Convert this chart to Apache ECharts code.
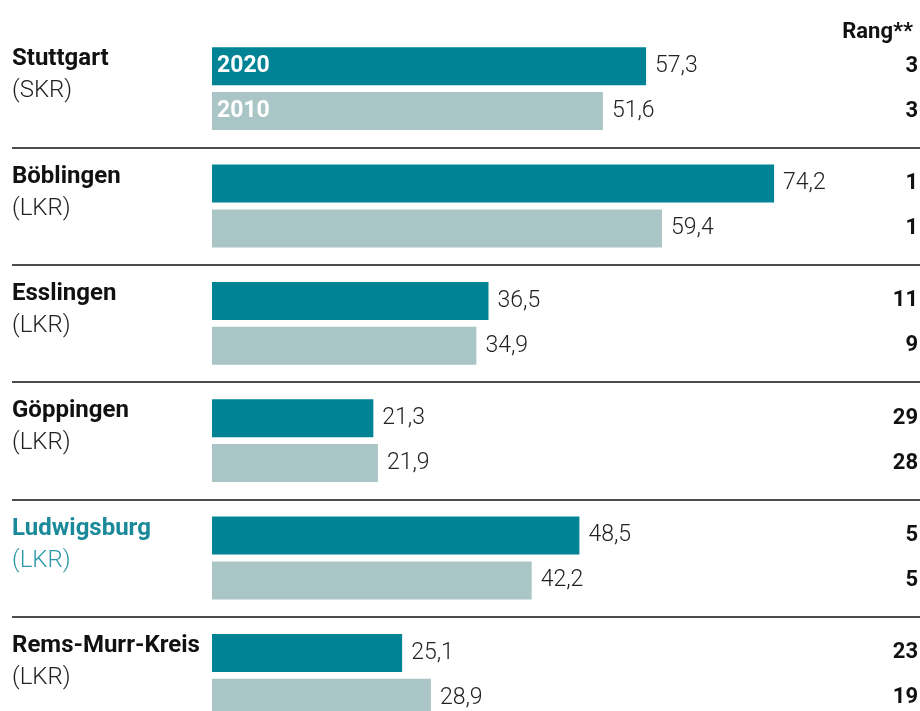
<!DOCTYPE html>
<html>
<head>
<meta charset="utf-8">
<script src="https://cdn.jsdelivr.net/npm/echarts@6/dist/echarts.min.js"></script>
<style>
  html, body { margin: 0; padding: 0; background: #fff; }
  #chart { width: 920px; height: 711px; }
</style>
</head>
<body>
<div id="chart"></div>
<script>
// Werte
const cities = ['Stuttgart', 'Böblingen', 'Esslingen', 'Göppingen', 'Ludwigsburg', 'Rems-Murr-Kreis']
const kinds = ['SKR', 'LKR', 'LKR', 'LKR', 'LKR', 'LKR']
const years = ['2020', '2010']
const values2020 = [57.3, 74.2, 36.5, 21.3, 48.5, 25.1]
const values2010 = [51.6, 59.4, 34.9, 21.9, 42.2, 28.9]
const rank2020 = [3, 1, 11, 29, 5, 23]
const rank2010 = [3, 1, 9, 28, 5, 19]
const rankTitle = 'Rang**'
const highlight = 'Ludwigsburg'

const teal = '#008394'
const light = '#aac5c6'
const xMin = -26.4
const xMax = 93.46
const rankStart = 85 // hier beginnt der unsichtbare Rang-Block

const fmt = v => v.toFixed(1).replace('.', ',')

function yearSeries(year, values, ranks, color) {
  const stack = 's' + year
  return [
    {
      name: year,
      type: 'bar',
      stack: stack,
      barWidth: 38,
      barGap: '18%',
      itemStyle: { color: color },
      label: {
        show: true,
        position: 'insideLeft',
        distance: 5,
        color: '#fff',
        fontSize: 23,
        fontWeight: 'bold',
        fontFamily: 'Roboto',
        formatter: p => (p.dataIndex === 0 ? year : '')
      },
      data: values
    },
    {
      type: 'bar',
      stack: stack,
      barWidth: 38,
      itemStyle: { color: 'rgba(0,0,0,0)' },
      label: {
        show: true,
        position: 'insideLeft',
        distance: 9,
        color: '#222',
        fontSize: 23,
        fontWeight: 300,
        fontFamily: 'Roboto',
        formatter: p => fmt(values[p.dataIndex])
      },
      data: values.map(v => rankStart - v)
    },
    {
      type: 'bar',
      stack: stack,
      barWidth: 38,
      itemStyle: { color: 'rgba(0,0,0,0)' },
      label: {
        show: true,
        position: 'insideRight',
        distance: 2,
        color: '#111',
        fontSize: 22,
        fontWeight: 'bold',
        fontFamily: 'Roboto',
        formatter: p => String(ranks[p.dataIndex])
      },
      data: values.map(() => xMax - rankStart)
    }
  ]
}

const chart = echarts.init(document.getElementById('chart'))

chart.setOption({
  animation: false,
  silent: true,
  textStyle: { fontFamily: 'Roboto' },
  title: {
    text: rankTitle,
    right: 2,
    top: 16,
    textStyle: { fontSize: 22, fontWeight: 'bold', color: '#111', fontFamily: 'Roboto' }
  },
  grid: {
    left: 12,
    right: 0,
    top: 30,
    height: 704,
    containLabel: false,
    outerBoundsMode: 'none'
  },
  xAxis: {
    type: 'value',
    min: xMin,
    max: xMax,
    show: false
  },
  yAxis: {
    type: 'category',
    inverse: true,
    data: cities,
    axisLine: { show: false },
    axisTick: { show: false },
    splitLine: {
      show: true,
      lineStyle: {
        width: 1.5,
        color: ['rgba(0,0,0,0)', '#111', '#111', '#111', '#111', '#111', '#111']
      }
    },
    axisLabel: {
      align: 'left',
      margin: 0,
      formatter: (name, i) => {
        const hl = name === highlight
        return '{' + (hl ? 'bh' : 'b') + '|' + name + '}\n{' + (hl ? 'nh' : 'n') + '|(' + kinds[i] + ')}\n{e| }'
      },
      rich: {
        b: { fontSize: 24, fontWeight: 'bold', color: '#111', lineHeight: 32, fontFamily: 'Roboto' },
        n: { fontSize: 24, fontWeight: 300, color: '#222', lineHeight: 32, fontFamily: 'Roboto' },
        bh: { fontSize: 24, fontWeight: 'bold', color: '#1a8a9a', lineHeight: 32, fontFamily: 'Roboto' },
        nh: { fontSize: 24, fontWeight: 300, color: '#2a9aab', lineHeight: 32, fontFamily: 'Roboto' },
        e: { fontSize: 10, lineHeight: 27 }
      }
    }
  },
  series: [
    ...yearSeries(years[0], values2020, rank2020, teal),
    ...yearSeries(years[1], values2010, rank2010, light)
  ]
})
</script>
</body>
</html>
